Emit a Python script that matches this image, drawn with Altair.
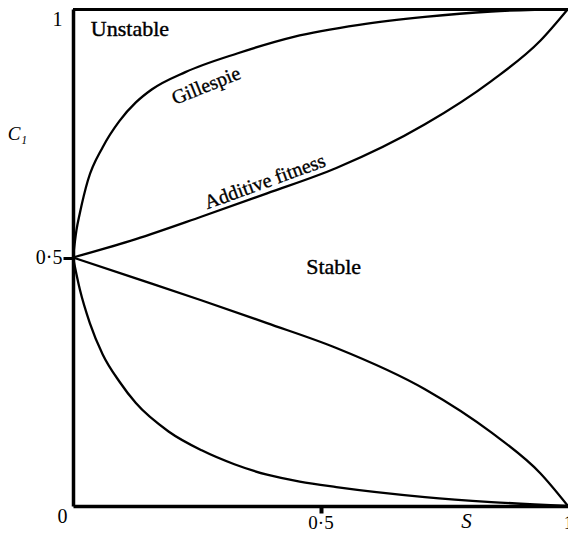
import altair as alt
import pandas as pd

# Curve readings (S, C1)
gil_up_s = [0, 0.007, 0.014, 0.030, 0.060, 0.094, 0.127, 0.159, 0.227, 0.333, 0.446, 0.578, 0.711, 0.845, 1.0]
gil_up_c = [0.5, 0.555, 0.59, 0.655, 0.722, 0.775, 0.812, 0.838, 0.873, 0.911, 0.944, 0.968, 0.984, 0.995, 1.0]

add_up_s = [0, 0.127, 0.259, 0.392, 0.532, 0.711, 0.845, 0.944, 1.0]
add_up_c = [0.5, 0.537, 0.582, 0.629, 0.680, 0.768, 0.855, 0.936, 1.0]

add_lo_s = [0, 0.127, 0.259, 0.392, 0.532, 0.711, 0.845, 0.944, 1.0]
add_lo_c = [0.5, 0.458, 0.414, 0.368, 0.318, 0.235, 0.148, 0.066, 0.0]

gil_lo_s = [0, 0.014, 0.034, 0.060, 0.094, 0.127, 0.193, 0.260, 0.326, 0.392, 0.458, 0.532, 0.711, 0.845, 1.0]
gil_lo_c = [0.5, 0.435, 0.368, 0.305, 0.250, 0.207, 0.150, 0.112, 0.084, 0.063, 0.049, 0.038, 0.018, 0.008, 0.0]

# Region / curve labels
lab_text = ["Gillespie", "Additive fitness"]
lab_s = [0.269, 0.388]
lab_c = [0.845, 0.652]
lab_angle = [-22, -20]

region_text = ["Unstable", "Stable"]
region_s = [0.036, 0.471]
region_c = [0.946, 0.467]

rows = []
for name, xs, ys in [("gil_up", gil_up_s, gil_up_c), ("add_up", add_up_s, add_up_c),
                     ("add_lo", add_lo_s, add_lo_c), ("gil_lo", gil_lo_s, gil_lo_c)]:
    for x, y in zip(xs, ys):
        rows.append({"series": name, "S": x, "C": y})
curves = pd.DataFrame(rows)
labels = pd.DataFrame({"text": lab_text, "S": lab_s, "C": lab_c, "angle": lab_angle})
regions = pd.DataFrame({"text": region_text, "S": region_s, "C": region_c})

FONT = "Liberation Serif"

xscale = alt.Scale(domain=[0, 1], nice=False, zero=False)
yscale = alt.Scale(domain=[0, 1], nice=False, zero=False)

xaxis = alt.Axis(
    values=[0.5, 1], labelExpr="datum.value == 0.5 ? '0·5' : '1'",
    title="S", titleFont=FONT, titleFontStyle="italic", titleFontWeight="normal", titleFontSize=21,
    titleX=393, titleY=15, titleAlign="center", titleBaseline="middle", titleAngle=0,
    grid=False, tickSize=7, tickWidth=4, tickColor="black",
    tickOpacity={"condition": {"test": "datum.value == 0.5", "value": 1}, "value": 0},
    labelFont=FONT, labelFontSize=19, labelColor="black", labelPadding=0, labelAngle=0,
    labelFlush=False, labelOverlap=False,
    domainColor="black", domainWidth=3.5,
)
yaxis = alt.Axis(
    values=[0, 0.5, 1], labelExpr="datum.value == 0.5 ? '0·5' : datum.value == 1 ? '1' : '0'",
    title="C₁", titleFont=FONT, titleFontStyle="italic", titleFontWeight="normal", titleFontSize=19,
    titleX=-56, titleY=124, titleAlign="center", titleBaseline="middle", titleAngle=0,
    grid=False, tickSize=10, tickWidth=3, tickColor="black",
    tickOpacity={"condition": {"test": "datum.value == 0.5", "value": 1}, "value": 0},
    labelFont=FONT, labelFontSize=20, labelColor="black", labelAlign="right",
    labelPadding={"condition": {"test": "datum.value == 0", "value": -4}, "value": 1},
    labelBaseline={"condition": {"test": "datum.value == 0.5", "value": "middle"}, "value": "top"},
    labelFlush=False, labelOverlap=False,
    domainColor="black", domainWidth=3.5,
)

lines = alt.Chart(curves).mark_line(
    color="black", strokeWidth=2.3, interpolate="monotone", strokeJoin="round", strokeCap="round"
).encode(
    x=alt.X("S:Q", scale=xscale, axis=xaxis),
    y=alt.Y("C:Q", scale=yscale, axis=yaxis),
    detail="series:N",
)

top_line = alt.Chart(curves).mark_rule(color="black", strokeWidth=3.5).encode(
    x=alt.datum(0), x2=alt.datum(1), y=alt.datum(1)
)

curve_labels = alt.Chart(labels).mark_text(
    font=FONT, fontSize=20, color="black", align="center", baseline="middle",
    stroke="black", strokeWidth=0.35
).encode(
    x="S:Q", y="C:Q", text="text:N", angle=alt.Angle("angle:Q", scale=None)
)

region_labels = alt.Chart(regions).mark_text(
    font=FONT, fontSize=22, color="black", align="left", baseline="alphabetic",
    stroke="black", strokeWidth=0.4
).encode(
    x="S:Q", y="C:Q", text="text:N"
)

chart = alt.layer(lines, top_line, curve_labels, region_labels).properties(
    width=495, height=497,
    autosize=alt.AutoSizeParams(type="none"),
    padding={"left": 65, "top": 1, "right": 0, "bottom": 25},
).configure_view(strokeWidth=0).configure(background="white")

chart.save("out.html", embed_options={"renderer": "svg", "actions": False})
